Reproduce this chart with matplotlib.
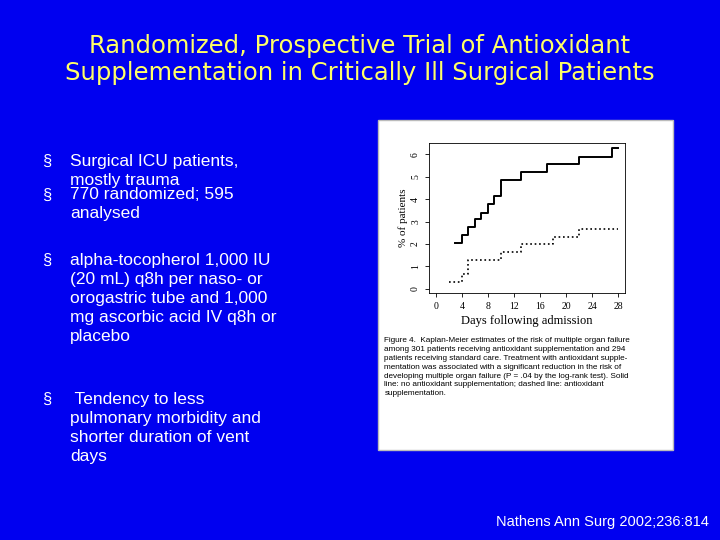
import matplotlib.pyplot as plt
from matplotlib.patches import Rectangle

# Kaplan-Meier step data (% of patients)
solid_days = [3, 4, 5, 6, 7, 8, 9, 10, 13, 17, 22, 27, 28]
solid_pct = [2.05, 2.4, 2.75, 3.1, 3.4, 3.8, 4.15, 4.85, 5.2, 5.55, 5.9, 6.3, 6.3]
dashed_days = [2, 4, 5, 10, 13, 18, 22, 28]
dashed_pct = [0.3, 0.65, 1.3, 1.65, 2.0, 2.3, 2.65, 2.65]
x_ticks = [0, 4, 8, 12, 16, 20, 24, 28]
y_ticks = [0, 1, 2, 3, 4, 5, 6]

bullets = [
    (0.715, "Surgical ICU patients,\nmostly trauma"),
    (0.653, "770 randomized; 595\nanalysed"),
    (0.531, "alpha-tocopherol 1,000 IU\n(20 mL) q8h per naso- or\norogastric tube and 1,000\nmg ascorbic acid IV q8h or\nplacebo"),
    (0.274, " Tendency to less\npulmonary morbidity and\nshorter duration of vent\ndays"),
]

fig = plt.figure(figsize=(7.2, 5.4), dpi=100)
fig.patch.set_facecolor('#0000f0')

fig.text(0.5, 0.89, "Randomized, Prospective Trial of Antioxidant\nSupplementation in Critically Ill Surgical Patients",
         ha='center', va='center', color='#ffff66', fontsize=17.5, family='DejaVu Sans', linespacing=1.15)

for y, txt in bullets:
    fig.text(0.058, y, "§", color='white', fontsize=12, va='top', family='Liberation Sans')
    fig.text(0.097, y, txt, color='white', fontsize=12.5, va='top', family='Liberation Sans', linespacing=1.33)

box = Rectangle((0.525, 0.167), 0.41, 0.611, transform=fig.transFigure,
                facecolor='white', edgecolor='#bbbbbb', zorder=-1)
fig.add_artist(box)

ax = fig.add_axes([0.596, 0.457, 0.272, 0.278])
ax.step(solid_days, solid_pct, where='post', color='black', lw=1.4)
ax.step(dashed_days, dashed_pct, where='post', color='black', lw=1.2, linestyle=':')
ax.set_xlim(-1, 29)
ax.set_ylim(-0.2, 6.5)
ax.set_xticks(x_ticks)
ax.set_yticks(y_ticks)
ax.tick_params(labelsize=7, length=3, width=0.6)
for lbl in ax.get_yticklabels():
    lbl.set_rotation(90)
    lbl.set_va('center')
for lbl in ax.get_xticklabels() + ax.get_yticklabels():
    lbl.set_family('Liberation Serif')
ax.set_xlabel("Days following admission", fontsize=9, family='Liberation Serif', labelpad=3)
ax.set_ylabel("% of patients", fontsize=8, family='Liberation Serif', labelpad=2)
for s in ax.spines.values():
    s.set_linewidth(0.6)

caption = ("Figure 4.  Kaplan-Meier estimates of the risk of multiple organ failure\n"
           "among 301 patients receiving antioxidant supplementation and 294\n"
           "patients receiving standard care. Treatment with antioxidant supple-\n"
           "mentation was associated with a significant reduction in the risk of\n"
           "developing multiple organ failure (P = .04 by the log-rank test). Solid\n"
           "line: no antioxidant supplementation; dashed line: antioxidant\n"
           "supplementation.")
fig.text(0.534, 0.375, caption, fontsize=5.9, va='top', family='Liberation Sans', linespacing=1.35)

fig.text(0.985, 0.02, "Nathens Ann Surg 2002;236:814", color='white', fontsize=10.5,
         ha='right', va='bottom', family='Liberation Sans')

fig.savefig('out.png', dpi=100, facecolor=fig.get_facecolor())
